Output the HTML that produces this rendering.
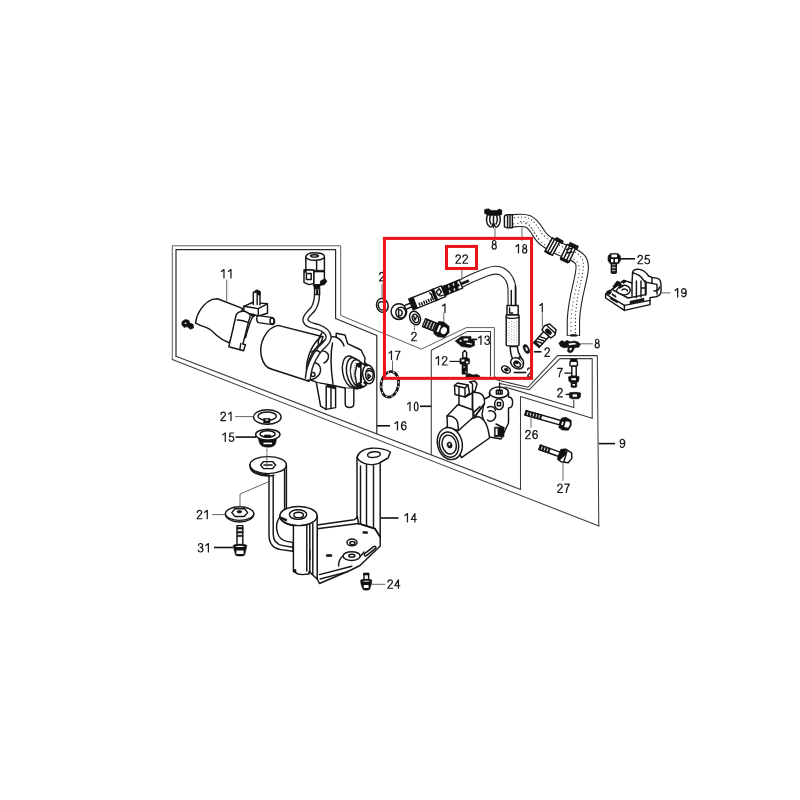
<!DOCTYPE html>
<html><head><meta charset="utf-8">
<style>
html,body{margin:0;padding:0;background:#fff;}
svg{display:block;}
text{font-family:"Liberation Sans",sans-serif;font-size:12.300px;fill:#111;}
.l{fill:none;stroke:#151515;stroke-width:1.450;stroke-linecap:round;stroke-linejoin:round;}
.g{fill:none;stroke:#555;stroke-width:0.9;stroke-linecap:round;stroke-linejoin:round;}
.t{fill:none;stroke:#111;stroke-width:1.6;stroke-linecap:butt;}
.f{fill:#fff;stroke:#151515;stroke-width:1.450;stroke-linejoin:round;stroke-linecap:round;}
.k{fill:#111;stroke:#111;stroke-width:0.6;stroke-linejoin:round;}
.w{fill:#fff;stroke:none;}
.r{fill:none;stroke:#ec141c;stroke-width:3.050;}
#frames path{stroke:#3a3a3a;stroke-width:1.050;}
.d path{fill:none;stroke:#1a1a1a;stroke-width:1.150;stroke-linecap:round;stroke-linejoin:round;}
</style></head><body>
<svg width="800" height="800" viewBox="0 0 800 800">
<rect width="800" height="800" fill="#fff"/>
<!-- 10_frames.svg -->
<g id="frames" class="l">
<path style="stroke:#555;stroke-width:.95" d="M172.3 359.6V245.8H340.7V315.4L421.3 349.2L466.3 327.6H494.4V376"/>
<path d="M172.3 359.6L599 526"/>
<path style="stroke:#2a2a2a;stroke-width:1.2" d="M176 356.2V249.6H335.6V318.5L376.8 335.5V433.7"/>
<path d="M176 356.2L520.5 489.5"/>
<path d="M431.3 454.6V350.2L467.5 331.4H490.5V376"/>
<path d="M494.4 376L497 380L528 387.3L557.5 355.6H597.3L598.8 526"/>
<path d="M500 383.5L529 389.8L560 358.6H592.2V418.2"/>
<path d="M505 387L573.8 407.5V400"/>
<path d="M520.5 489.5V396.5L592.2 418.2"/>
</g>
<!-- 20_cover.svg -->
<g id="cover11">
<path class="f" d="M195.6 323.1C196.5 313 204 302.5 212.5 299.4L217.5 298.8L243 308.6L238 316L229.5 343C224 341 219.5 338 216.5 335.3C213 331.5 210 329 207 327.8C203 326.3 199 325 195.6 323.1Z"/>
<path class="f" d="M235.8 316.5C236 312.5 241 310.6 245 311.4C249 312.2 251 315 250 317.5L248.5 322C246.5 330 244.5 338 242.8 344L245.4 344.8L243.6 350.8L228.8 346.8Z"/>
<path class="l" d="M237.4 320C241 319.8 245 321 248.6 322.6"/>
<path class="l" d="M240.8 343.5L239.8 349.6"/>
<path class="l" d="M252.8 316.5C250 322 247.5 330 245.5 338" stroke-dasharray="3.5 1.2" stroke-width="1.3"/>
<!-- sensor block -->
<path class="f" d="M243.8 306.3L252.5 302.5L267.5 303.8V313.3L258.5 316L249 313.5L243.8 310.6Z"/>
<path class="l" d="M243.8 306.3L258.3 308.6L267.5 303.8M258.3 308.6V316"/>
<path class="f" d="M253.3 304.5V292.5L256.5 291L260 292.5V305"/>
<path class="k" d="M254.6 291L257 289.8L260.2 291.2V295H258V293L254.6 292.5Z"/>
<path class="l" d="M257.2 293V304.5" stroke-width="1.4"/>
<!-- small cylinder -->
<path class="f" d="M258 315.6L271.5 317.4C275 318 275.8 323.4 272.4 324.6L258.4 322.6C256.2 321.4 256.2 316.8 258 315.6Z" stroke-width="1.3"/>
<ellipse class="l" cx="272" cy="321" rx="2" ry="3" stroke-width="1.2"/>
<path class="k" d="M250.6 315.2l3 -1.2l2 1.6l-2.6 1.6z"/>
<!-- screw -->
<path class="k" d="M182 321.600l3.400-2.200l3.600 1l.6 2.400l3.600 1.600l.4 3.600l-3.200 1.200l-3.400-2.600l-2.800 1l-2.400-2.600z"/>
<path class="w" d="M184.600 322.800l1-.4l.8.300v1l-.9.400l-.9-.400z"/>
</g>
<!-- 21_motor.svg -->
<g id="motor">
<path class="f" d="M278 325.4C266 328 258.5 343 261.3 356C263 364 267 368.5 272.8 369.5L309 381.3L323 336.8Z"/>
<path class="l" d="M321 336.6C311 345 303.5 362 307.6 380.6"/>
<!-- head housing -->
<path class="f" d="M330 336.6L336.2 337V333.2L345 335L347.6 343.6L361 350L365 358L362 387L357.5 388.8L345 388L332.5 385.2L317.5 382.6L307.5 378.8C305 370 309 356 316 348C320 343 326 339 330 336.6Z"/>
<path class="l" d="M332.5 343C330 355 331 370 333 384"/>
<path class="l" d="M336.2 337C340 339 343 342 344 346"/>
<ellipse class="f" cx="351" cy="371.600" rx="8.400" ry="15.800" transform="rotate(-10 351 371.600)" stroke-width="1.200"/>
<ellipse class="f" cx="354.600" cy="372.600" rx="8" ry="15" transform="rotate(-10 354.600 372.600)" stroke-width="1.200"/>
<ellipse class="f" cx="358" cy="373.600" rx="7.400" ry="14" transform="rotate(-10 358 373.600)" stroke-width="1.400"/>
<path d="M352 362C350.500 366 350 372 351 379M355.600 363C354 367 353.600 373 354.600 380" fill="none" stroke="#666" stroke-width="0.800" stroke-dasharray="1.200 1"/>
<path class="f" d="M357 364L361 362.600L366.400 366.400L368.600 375.600L366 385.400L360.400 388L356.600 384.400L355 374Z" stroke-width="1.700"/>
<path class="l" d="M361 362.600L360.400 388M357 364L361 368L361.400 382L356.600 384.400" stroke-width="1.200"/>
<ellipse class="f" cx="368.500" cy="374.400" rx="5.800" ry="9.400" transform="rotate(-8 368.500 374.400)" stroke-width="1.600"/>
<ellipse class="f" cx="369.400" cy="374.600" rx="3.800" ry="6.200" stroke-width="1.200"/>
<path class="l" d="M367.400 371.600C368.400 370 370.400 370 371.400 371.600M368 374L370.600 376.400L368 378.600Z" stroke-width="1"/>
<path class="k" d="M357 366l3-3.400l2 1l-3 4zM357.400 385l3.200 2.600l3.600-.400l-4-3.400zM363.400 383l3 2l1.600-1.600l-3-2.400zM364 363.400l3 3l1.400-1.400l-3-2.600z"/>
<!-- prongs -->
<path class="f" d="M316.4 383L320.6 406.2L326 409.4L335.6 407.6V387.5"/>
<path class="l" d="M326.2 386V409.2M331 387.5V408.5"/>
<path class="k" d="M327 384.4l8.6 2v2.6l-8.6-2z"/>
<path class="f" d="M345.2 388.2V403.5C345.2 408.8 353.8 408.8 353.8 403.5V388.8"/>
<!-- wire clip region -->
<path class="f" d="M306.5 368.5C309 364 313 362 316 363C320 364 321.5 369 320 373C318.5 377 313 380.5 308.5 379.5Z"/>
<path class="l" d="M311 374.5a2 2 0 1 0 4 0a2 2 0 1 0-4 0" stroke-width="1.2"/>
<path class="l" d="M318 352C322 350 326 351 328 354C329.5 357 328 361 324 363"/>
<!-- wire -->
<path d="M317 294C317 300 316.5 304 313 309C310 313 304.5 316 305.5 320.5C306.5 325 313 325.5 318 327C324 329 328.3 332 328.6 337C329 342 323.5 345 320 349C316 354 312 361 309.8 368C308.5 372.5 308 376 307.8 379" fill="none" stroke="#222" stroke-width="6.400" stroke-linecap="butt"/>
<path d="M317 293.5C317 300 316.5 304 313 309C310 313 304.5 316 305.5 320.5C306.5 325 313 325.5 318 327C324 329 328.3 332 328.6 337C329 342 323.5 345 320 349C316 354 312 361 309.8 368C308.5 372.5 308 376 307.8 379.5" fill="none" stroke="#fff" stroke-width="3.600" stroke-linecap="butt"/>
<path class="l" d="M322 333C319 337 317.500 341 318.500 345" stroke-width="1.200"/>
<path class="l" d="M311.500 352C314 350 318 350 320 352.500" stroke-width="1.200"/>
</g>
<!-- 22_connector.svg -->
<g id="connector">
<path class="f" d="M305.8 257C306 254.2 310 252.7 313 252.8L320 253.2C323 253.6 324.5 255.4 324.4 257.6V281.5L320 284.4L313.6 285V270.5L305.8 269.4Z" stroke-width="1.600"/>
<path class="l" d="M305.8 257.4C309 260.8 319 261.6 324.4 257.8"/>
<path class="l" d="M310.5 255.6C311 254.4 317.5 254.6 318.5 255.8C318.5 257.6 311 257.6 310.5 255.6Z" stroke-width="1.600"/>
<path class="l" d="M316.6 261V270.5"/>
<path class="f" d="M304 270H313.8V283.4L309 284.6L304 282.4Z" stroke-width="1.600"/>
<path class="l" d="M306.4 273.5H311.2V279.5H306.4Z"/>
<path class="k" d="M304.4 269.6h2v3h-2zM313.6 270.2H324v1.8H313.6z"/>
<path class="k" d="M320.4 281l4.6-2.4l2 2.6l-2.6 3.6l-4 .6z"/>
<path class="k" d="M313.6 285h6.6l-.6 4.4h-5.2z"/>
<path class="f" d="M314.6 288.6h5v6h-5z"/>
<path class="k" d="M316.4 289.4h1.6v5h-1.6z"/>
</g>
<!-- 30_bracket.svg -->
<g id="ring17">
<ellipse cx="389.800" cy="384.300" rx="8.700" ry="12.900" transform="rotate(10 389.800 384.300)" fill="none" stroke="#111" stroke-width="2.700"/>
<ellipse cx="389.800" cy="384.300" rx="8.700" ry="12.900" transform="rotate(10 389.800 384.300)" fill="none" stroke="#fff" stroke-width="1.100" stroke-dasharray="1.600 4.200"/>
</g>
<g id="washers">
<ellipse class="f" cx="267.300" cy="417" rx="13.800" ry="7.300" stroke-width="1.900"/>
<ellipse class="f" cx="267.200" cy="416.200" rx="9.200" ry="4.200" stroke-width="1.500"/>
<path class="k" d="M263.6 418.4h6.4v4.6h-6.4z"/>
<path class="w" d="M265.4 419.4h2.8v1.2h-2.8z"/>
<!-- 15 -->
<path class="k" d="M258.6 437.5C258.6 441 259.5 444.5 262 446C265 447.6 271 447.6 273.6 446C276 444.5 276.4 441 276.4 437.5Z"/>
<ellipse class="f" cx="267.8" cy="434.6" rx="12.2" ry="5.4" stroke-width="1.5"/>
<ellipse class="f" cx="267.6" cy="434" rx="7.6" ry="3.2" stroke-width="1.4"/>
<path class="w" d="M263.4 442.6h8.6v1.6h-8.6z"/>
<path class="k" d="M264.4 435h6.4v2.4h-6.4z"/>
<!-- lower 21 -->
<path class="f" d="M225.4 514C225.4 518 231 522 239.6 522C248.4 522 253.8 518 253.8 514" stroke-width="1.4"/>
<ellipse class="f" cx="239.6" cy="513.6" rx="14.2" ry="6.8" stroke-width="1.4"/>
<path class="l" d="M231.8 512.6L235 508.8H244.6L247.6 512.6L244.4 516.4H235Z" stroke-width="0.9"/>
<ellipse class="k" cx="239.4" cy="511.8" rx="2.4" ry="1.3"/>
</g>
<g id="bolt31">
<path class="f" d="M237 525.6H242.8V545H237Z" stroke-width="1.3"/>
<path class="k" d="M237 527.5h5.8v1.6H237zM237 531.4h5.8v1.6H237zM237 535.2h5.8v1.4H237z"/>
<path class="k" d="M233.2 545.6C233.2 543.8 246.8 543.8 246.8 545.6L246 549.5L244.6 555.2C242 556.4 238 556.4 235.6 555.2L234 549.5Z"/>
<path class="w" d="M236.4 550.6h7.2v3.4h-7.2zM235 546.4c3-.8 7-.8 10 0c-3 .8-7 .8-10 0z"/>
</g>
<g id="bracket14">
<!-- right post -->
<path class="f" d="M357 457.500C358 452.500 364 448.600 371 448.200C379 447.800 386 449.400 390.400 452L388 458L380.200 462.500V537L375 528.800L358.500 523.500L357 519Z" stroke-width="1.400"/>
<path class="l" d="M357 457.500C359 462 366 465 372 464.600C376 464.400 379 463.400 380.200 462.500"/>
<path class="l" d="M366.500 464.800V525.600M373.500 464.600V528" stroke-width="1.100"/>
<ellipse class="l" cx="374" cy="454.600" rx="6.400" ry="2.800" transform="rotate(-6 374 454.600)" stroke-width="1.400"/>
<path class="l" d="M360.500 466V523" stroke-width="0.800"/>
<!-- left pad + arm -->
<path class="f" d="M250 465C250 460 258 456.600 268 456.600C278 456.600 286.400 460 286.400 465V512L281 516C277 520 276 526 277 531C278 537 282 540.600 288 541.600L293 542.400V551.200L281 549.600C273 548.400 269 543 269 535V475C258 474.600 250 470.600 250 465Z"/>
<path class="l" d="M250 465C250 470 258 473.600 268 473.600C278 473.600 286.400 470 286.400 465"/>
<path class="l" d="M250.200 467.500C251 472 258 476 268 476C271 476 273 475.600 274 475.200"/>
<path class="l" d="M273.200 476V534C273.200 541 277 544.600 283 545.600L293 547.200M284.600 470V511"/>
<path class="l" d="M260.600 465L263.600 461.600H272.600L275.600 465L272.600 468.600H263.600Z" stroke-width="1.400"/>
<path class="l" d="M264 465h8" stroke-width="1.200"/>
<!-- base plate -->
<path class="f" d="M317.200 525L354 519.800C356 519.400 357 518 357.400 516.500L358.500 523.500L375 528.800L380.200 537V546L360 565.500L351 570L319.500 583.500L317.200 579Z" stroke-width="1.400"/>
<path class="l" d="M317.200 528.800L358.500 523.500L375 528.800L380.200 537"/>
<path class="l" d="M319.500 574.600L351.800 566.200M320.200 579L348 571.600" stroke-width="1.400"/>
<path class="l" d="M343 556C343 553.6 347 551.8 351.6 551.8C356.4 551.8 360.2 553.6 360.2 556C360.2 558.4 356.4 560.4 351.6 560.4C347 560.4 343 558.4 343 556Z"/>
<path class="l" d="M343 556C340 558 338.6 562 338.6 566M360.2 556.6L364 552"/>
<ellipse class="l" cx="351.8" cy="555.8" rx="3" ry="1.5" stroke-width="1.4"/>
<ellipse class="l" cx="352" cy="542.4" rx="5" ry="3.4"/>
<ellipse class="l" cx="352.4" cy="543" rx="2.6" ry="1.6"/>
<path class="l" d="M364.6 553.6L373.6 546.6C375.2 545.6 376.6 547 375.6 548.4L366.4 555.6C365 556.6 363.4 555 364.6 553.6Z"/>
<path class="k" d="M326.4 554.6h5.4v1.8h-5.4zM363 531.4l4.6.4l-.2 1.8l-4.6-.4z"/>
<!-- front cylinder post -->
<path class="f" d="M279.800 516C279.800 510.800 288.200 506.400 298.500 506.400C308.800 506.400 317.200 510.800 317.200 516V579L316 578L309 571.400V574L302.400 574.600L298 574L293.400 571.400V525.600C285.600 524.400 279.800 520.600 279.800 516Z" stroke-width="1.400"/>
<path class="l" d="M279.800 516C279.800 521.200 288.200 525.600 298.500 525.600C308.800 525.600 317.200 521.200 317.200 516"/>
<path class="l" d="M306.800 525V571M309.800 524.600V572M312.800 523.600V574" stroke-width="1.100"/>
<ellipse class="l" cx="298" cy="514.600" rx="8.600" ry="4.800" stroke-width="1.400"/>
<ellipse class="l" cx="298.600" cy="515" rx="4.800" ry="2.800"/>
<path class="k" d="M281.400 517l5.600 2.400l-.6 1.800l-5.600-2.400zM293.400 569.600h2.600v2.400h-2.600z"/>
<path class="l" d="M309.800 550V560" stroke-width="2.200"/>
</g>
<g id="bolt24">
<path class="f" d="M364 573.6H368.6V580H364Z"/>
<path class="k" d="M363.6 573h5.4v2h-5.4z"/>
<path class="k" d="M360.6 580.4C360.6 579 371.8 579 371.8 580.4L371.4 584L369.6 589.4C367.6 590.4 364.8 590.4 363 589.4L361 584Z"/>
<path class="w" d="M363.8 585h4.8v3h-4.8zM362.4 581.2c2.400-.6 5.4-.6 7.800 0c-2.400.6-5.400.6-7.800 0z"/>
</g>
<!-- 40_solenoid.svg -->
<g id="solenoid10">
<!-- right valve body -->
<path class="f" d="M489.500 392.500C489.500 389.200 494 387 498.700 387C503.600 387 508.500 389.200 508.500 392.500V397C511 397 512.600 399.400 512.600 402.500C512.600 405.800 511 408 508.500 408V423L501 439L489.500 437L486 428L482 415L484.500 399L489.500 396.500Z" stroke-width="1.200"/>
<path class="l" d="M489.500 392.500C489.500 395.800 494 398 498.700 398C503.600 398 508.500 395.800 508.500 392.500"/>
<path class="l" d="M496.400 390.200H502.200V394H496.400ZM498.400 390.200V394M500.400 390.200V394" stroke-width="0.800"/>
<path class="l" d="M499.600 383V390" stroke-dasharray="2 1" stroke-width="0.800"/>
<ellipse class="f" cx="499" cy="404.200" rx="4.400" ry="5.400" stroke-width="1.200"/>
<path class="l" d="M497.400 402.400h3.200v3.400h-3.200z" stroke-width="0.900"/>
<path class="l" d="M487.500 407.500C491 405.500 495 407 495.500 410.500M489 411C493 410 496.500 413 495.500 417C494.500 421 490 422.500 487.500 420M496 424L504 428"/>
<path class="k" d="M494.400 427.200h9.600v9.600h-9.600z"/>
<path class="w" d="M495.600 428.600h2v6.400h-2z"/>
<!-- cylinder -->
<path class="f" d="M446 427.500L478 416.500C483.500 418 488 424 489.500 438L461.500 457.600Z"/>
<!-- upper block -->
<path class="f" d="M472.500 392L479 393C483.500 394.500 485 399 484.500 403.500L474.500 417L472.500 410Z"/>
<path class="l" d="M473.500 412.600L480 406.600M475 416.400L484.400 404"/>
<path class="f" d="M447 416L458 404.500L473 410V417.500L458.500 430.500L447.500 427.600Z"/>
<path class="l" d="M447 416C452 415.400 456.500 418 457.500 422C458.200 425 458.200 428 458.500 430.500"/>
<path class="l" d="M459 395V404.600M472.500 392V410"/>
<!-- front face -->
<ellipse class="f" cx="449.800" cy="443.600" rx="12.300" ry="16.200" transform="rotate(-14 449.800 443.600)" stroke-width="1.300"/>
<ellipse class="l" cx="449.200" cy="444.600" rx="7" ry="9.600" transform="rotate(-14 449.200 444.600)"/>
<ellipse class="l" cx="449" cy="444.600" rx="9.600" ry="12.800" transform="rotate(-14 449 444.600)" stroke-width="0.700"/>
<ellipse class="k" cx="449.600" cy="445" rx="2.500" ry="3.100" transform="rotate(-14 449.600 445)"/>
<ellipse class="w" cx="449.400" cy="444.400" rx=".9" ry="1.200"/>
<!-- connector on top -->
<path class="f" d="M469.500 382L475 381L477 384L475 391L472.500 392V384Z"/>
<path class="f" d="M454.500 385.500L457.500 383L468 385L469.500 393L465 397L455 394.500Z" stroke-width="1.300"/>
<path class="l" d="M454.500 385.500L465 388V397M465 388L468 385"/>
<path class="l" d="M459 386.600V395.600" stroke-width="0.800"/>
<path class="l" d="M465 397L472.500 393"/>
</g>
<g id="p12_13">
<!-- 13 clip -->
<path class="k" d="M455.200 341L461.400 336.400H471V339.200L474.400 340.600L474.600 345.600L470 347.600L461.600 346.600Z"/>
<path class="w" d="M463.600 338.400h4.600v2h-4.600zM466.400 342.600l5.400 1v1.200l-5.400-1zM459 341l2.400-1.600v2.600z"/>
<!-- 12 -->
<path class="f" d="M462.800 352.600L464.700 350.400L466.600 352.600V358H462.800Z" stroke-width="1.400"/>
<path class="k" d="M459.800 359C459.800 357.600 469.600 357.600 469.600 359V363.400C469.600 364.800 459.800 364.800 459.800 363.400Z"/>
<path class="w" d="M461.400 359.400h3v2h-3zM466 361.600h2.400v1.600h-2.400z"/>
<path class="k" d="M462 364.600h5.400v9.600h-5.400z"/>
<path class="w" d="M463.400 366.400h1.600v1h-1.600zM465.200 371.400h1.400v1h-1.400z"/>
<path class="k" d="M466 375l3-1.400l4 1.400l3.600-.600l3 1.400l.400 1.400h-14z"/>
</g>
<!-- 50_hose22.svg -->
<g id="washer2left">
<ellipse class="f" cx="382.300" cy="305.400" rx="5.800" ry="7" transform="rotate(-15 382.300 305.400)" stroke-width="1.400"/>
<ellipse class="l" cx="381.600" cy="305.800" rx="3.200" ry="4.200" transform="rotate(-15 381.600 305.800)" stroke-width="1.100"/>
</g>
<g id="hose22">
<!-- tube -->
<path d="M458 285L472 278L486 272.400C491 270.400 497 269 502 271.600C508 275 512 282 512 290V306" fill="none" stroke="#222" stroke-width="9" />
<path d="M457 285.500L472 278L486 272.400C491 270.400 497 269 502 271.600C508 275 512 282 512 290V307" fill="none" stroke="#fff" stroke-width="6.800" />
<path class="l" d="M511.300 290.500V305.400" stroke-width="1.600" stroke-linecap="butt"/><path class="l" d="M515.400 285.500V305.400" stroke-width="3" stroke-linecap="butt"/>
<!-- left ferrule, local coords along axis -->
<circle class="f" cx="398.900" cy="311.600" r="7.800" stroke-width="1.500"/>
<ellipse class="f" cx="400.800" cy="312.600" rx="5" ry="5.400" stroke-width="1.100"/>
<path class="l" d="M398.600 309.600V316.200C403 316.600 404 309.600 398.600 309.600Z" stroke-width="1.200"/>
<g transform="translate(413.750 303.300) rotate(-22.100)">
<path class="f" d="M-9.600 -1.400H-2V2.600H-9.600Z"/>
<path class="k" d="M-3.400 -6.200H1.400V6.200H-3.400Z"/>
<path class="f" d="M1.400 -5.800H21.600V5.800H1.400Z" stroke-width="1.300"/>
<path class="l" d="M5 4V2M7.400 4.400V2.400M10 4V2M12.400 4.400V2.400M15 4V2M17.400 4.400V2.400M19.600 4V1M18.600 -3.600C20 -2 20 0 19 2" stroke-width="0.900"/>
<path class="k" d="M21.600 -6.200H23.400V6.200H21.600Z"/>
<path class="f" d="M23.400 -5.800H32V5.800H23.400Z" stroke-width="1.300"/>
<path class="l" d="M25 -2L29 -4L30 0L26 2ZM27 3L30.600 3.600" stroke-width="0.900"/>
<path class="k" d="M32 -5H34.400V5H32Z"/>
<path class="f" d="M34.400 -4.400H51V4.400H34.400Z"/>
<path class="k" d="M35.400 -4.400l3 0l-2 8.800h-3zM40.400 -4.400h3l-2 8.800h-3zM45.400 -4.400h3l-2 8.800h-3zM36 -1h13v2h-13z"/>
<path class="k" d="M51.400 -1.200h8v2h-8z"/>
</g>
<!-- washer 2 -->
<ellipse class="f" cx="415" cy="318" rx="5.200" ry="7" transform="rotate(-22 415 318)" stroke-width="1.300"/>
<ellipse class="l" cx="415.400" cy="318.400" rx="3" ry="4.400" transform="rotate(-22 415.400 318.400)"/>
<path class="l" d="M413.600 316l1.400 4l1.400-3" stroke-width="0.900"/>
<!-- bolt 1 left -->
<g transform="translate(424 322.600) rotate(22)">
<path class="f" d="M0 -4.200H13V4.200H0Z" stroke-width="1.200"/>
<path class="k" d="M1.600 -4.200h1.400v8.400h-1.400zM4.600 -4.200h1.400v8.400h-1.400zM7.600 -4.200h1.400v8.400h-1.400zM10.600 -4.200h1.400v8.400h-1.400z"/>
<path class="k" d="M13 -6.400L18 -8L24.600 -6L27 0L24.600 6L18 8L13 6.400Z"/>
<ellipse class="w" cx="21.400" cy="0" rx="3" ry="3.600"/>
<path class="w" d="M15 -3.600h2v7.200h-2z"/>
</g>
<!-- right lower ferrule -->
<path class="f" d="M507 305.400H518.200V315H507Z" stroke-width="1.200"/>
<path class="l" d="M509.600 308V313H512.600" stroke-width="0.900"/>
<path class="f" d="M506.200 315H519V345C519 346.600 506.200 346.600 506.200 345Z" stroke-width="1.200"/>
<path class="l" d="M506.200 317.400C510 318.600 515 318.600 519 317.400"/>
<path d="M509 322V343M511.600 321V344M514.200 322V343M516.600 321V344" fill="none" stroke="#777" stroke-width=".8" stroke-dasharray=".8 1.800"/>
<path class="f" d="M510.200 346.400H517.200C517.600 351 518.600 354 521 357.400L513.600 361C511 356 510.200 352 510.200 346.400Z"/>
<!-- lower banjo -->
<g transform="translate(517 363.400) rotate(32)">
<ellipse class="f" cx="0" cy="0" rx="6.800" ry="5" stroke-width="1.400"/>
<ellipse class="l" cx=".6" cy=".6" rx="3.600" ry="2.400" stroke-width="1.200"/>
<path class="k" d="M-3 -1l3-1.400l1 2.400l-3 1.400z"/>
</g>
<path class="f" d="M519 357C522 358 524 361 523.400 364.600" />
<!-- washers near -->
<ellipse class="k" cx="526.400" cy="349" rx="2.600" ry="4.800" transform="rotate(-25 526.400 349)"/>
<ellipse class="w" cx="526.600" cy="349" rx=".9" ry="2.200" transform="rotate(-25 526.600 349)"/>
<ellipse class="f" cx="506" cy="369.600" rx="4.600" ry="3.200" transform="rotate(28 506 369.600)" stroke-width="1.400"/>
<path class="k" d="M504 369l3-1l1.600 2.400l-3 1z"/>
</g>
<!-- 60_hose18.svg -->
<g id="hose18">
<path id="h18" d="M511 221C517 220.400 523 219.400 528 221.400C534 224 537 231 541 236.600C545 242 552 245 559 248.600C566 252 576 254 580.400 260C584 265 581.600 274 579.600 283C577 294 574 306 573.400 320V336" fill="none" stroke="#222" stroke-width="13.400" stroke-linejoin="round"/>
<path d="M511 221C517 220.400 523 219.400 528 221.400C534 224 537 231 541 236.600C545 242 552 245 559 248.600C566 252 576 254 580.400 260C584 265 581.600 274 579.600 283C577 294 574 306 573.400 320V335.200" fill="none" stroke="#fff" stroke-width="11.200" stroke-linejoin="round"/>
<!-- stipple texture -->
<path d="M514 218C520 217 525 216.600 529 218.400C535 221 538 228 542 233.600C546 239 553 242 560 245.600C567 249 577 251 581.400 257.600C585 263 583 272 581 281C578.400 292 576 304 575.400 318V334" fill="none" stroke="#333" stroke-width="1.100" stroke-dasharray="1.100 2.400"/>
<path d="M513 224C519 223 524 222.400 527.400 224.400C532 227 535 234 539 239.600C543 245 550 248 557 251.600C564 255 573 257 577.400 262.600C580.600 267 579 275 577 284C574.400 295 571.600 307 571 321V334" fill="none" stroke="#444" stroke-width="1.100" stroke-dasharray="1.100 3"/>
<path d="M520 221.600C524 221 527 222 530 226C533 230 536 236 540 240" fill="none" stroke="#444" stroke-width="1.100" stroke-dasharray="1.100 2.200"/>
<!-- end cap -->
<path class="f" d="M504.400 217.400C504.400 215.600 506 214.800 508 214.800H512.400V227.800H508C506 227.800 504.400 227 504.400 225.200Z" stroke-width="1.600"/>
<path class="l" d="M507.600 216V226.600M510 215.600V227" stroke-width="0.900"/>
<!-- clamps -->
<g transform="translate(552.400 246.600) rotate(29)">
<path class="f" d="M-4.200 -7.600H4.200V7.600H-4.200Z" stroke-width="1.700"/>
<path class="l" d="M-1.500 -7.600V7.600M1.500 -7.600V7.600" stroke-width="1.400"/>
<path class="k" d="M-1 -10.200h8v3h-8zM-4.200 6.600h6v1.800h-6z"/>
</g>
<g transform="translate(568 253.400) rotate(25)">
<path class="f" d="M-4.600 -7.800H4.600V7.800H-4.600Z" stroke-width="1.700"/>
<path class="l" d="M-1.600 -7.800V7.800M1.600 -7.800V7.800" stroke-width="1.400"/>
<path class="k" d="M-3 -11h9.600v3.600h-9.600zM-4.600 6.400h8.600v2.600h-8.600z"/>
<path class="l" d="M-3 -3L1 -6M-1 0L3 -3" stroke-width="1.200"/>
</g>
<path class="k" d="M570.600 334.600h6v1.600h-6z"/>
</g>
<g id="clip8a">
<path class="k" d="M484.600 209.400l4-.6l2.400 1.600h6l2.400-1.400l2.400 1v4.400l-3 1h-10.400l-3.800-2z"/>
<path class="f" d="M487.600 214.600C485.600 219 486.400 224.600 489.600 226.600C491.400 227.600 492.600 226 492.800 224M499.400 214.600C501 219 500.400 224.600 497.400 226.600C495.600 227.600 494.400 226 494.200 224" stroke-width="1.300"/>
<path class="l" d="M490.600 215C489.400 218.400 489.600 222 491 224M496.400 215C497.600 218.400 497.400 222 496 224"/>
<path class="l" d="M493.500 216V227.400" stroke-width="1.200"/>
</g>
<g id="clip8b">
<path class="k" d="M558.800 343l3-2.400l3 1.400l2-1.600l3.600 1.400l4-.8l4 1.200l2 2.400l-1.600 2.600l-4 .4l-2.400 4.400l-3 .8l-2-1.600l1-4l-4.600.6l-3.400-1.600z"/>
<path class="w" d="M568.600 343.400l6-.6l2 1.400l-7.600 1zM569.600 348l2.400-.2l-.8 2.400l-1.600.2z"/>
</g>
<!-- 61_bracket19.svg -->
<g id="bolt25">
<path class="k" d="M608 257.400C608 255.600 609 254.400 611 253.400H617.400C619.400 254.400 620.600 255.600 620.600 257.400V260.400L618.400 263.800H610.200L608 260.400Z"/>
<path class="w" d="M611.400 254.600h5.600v2.600h-5.600zM611 259h2.400v3.200H611zM615 259h3v3.200h-3z"/>
<path class="f" d="M611.400 263.800H616.200V272.400C616.200 273.400 611.400 273.400 611.400 272.400Z" stroke-width="1.200"/>
<path class="k" d="M611.400 265.400h4.800v1.400h-4.800zM611.400 268.400h4.800v1.400h-4.800zM611.400 271.200h4.800v1.600h-4.800z"/>
</g>
<g id="bracket19">
<path class="f" d="M605.600 294L612 289.400L623.800 280.400L632 283L632.600 272.400C633 270 636 268.800 639.600 269.400C643.600 270 646.600 273 648.600 276L652 277.400L657.600 278.400C660.200 279.400 661 282 661 285V291C661 294.400 659 296 656 296.800L650 297.600V304.600L624.400 310.400L605.600 298Z" stroke-width="1.600"/>
<path class="l" d="M605.600 294L624.400 305.400L650 300.400" stroke-width="1.300"/>
<path class="l" d="M624.400 305.400V310.400"/>
<path class="l" d="M612 289.400L628 298L646 294.600V283" stroke-width="1.300"/>
<path class="l" d="M632 283V296M636.400 281V297.600M641 281V288H645.400V281M641 288V297M645.400 288V295" stroke-width="1.700"/>
<path class="l" d="M632.600 272.400C635 274 639 274.400 641 277L645 282L652 283.400V277.400" stroke-width="1.400"/>
<path class="l" d="M652 283.400L657 284.400V294" stroke-width="1.300"/>
<path class="f" d="M616 291C618 286 624 284 628 286.400C631 288.400 631 292 628.400 293.600C625 295.600 620 295 616 291Z" stroke-width="1.500"/>
<path class="l" d="M622 290C624 288.400 627 289 627.600 291M619 288L623 286" stroke-width="1.400"/>
<path class="k" d="M612.600 286.400l5-3.600l4 1.400l-1 2l-3-.400l-3.400 2.400zM606.600 291.600l3.400-1.600l1.600 2.200l-2.200 2.600l-2.600-1zM622 281.400l3-1.400l1.400 1.600l-3 1.800zM614 285l3-4l3 1l-3 3.600z"/>
<path class="k" d="M630 301.200l14-3v2.600l-14 3zM610.400 297.200l7 4v1.800l-7-4zM612 293.600l4 2.400v1.400l-4-2.400z"/>
<path class="l" d="M654 291C657 291 659 289.600 659.600 287" stroke-width="1.400"/>
</g>
<g id="bolt1r">
<g transform="translate(546.400 334) rotate(-48)">
<path class="f" d="M-14 -3.600H0V3.600H-14Z" stroke-width="1.300"/>
<path class="l" d="M-12 -2.400L-10 2.400M-9 -2.400L-7 2.400M-6 -2.400L-4 2.400" stroke-width="1.300"/>
<path class="k" d="M-15.400 -4h2.400v8h-2.400z"/>
<path class="f" d="M0 -6L5 -7L9.600 -4.400V4.400L5 7L0 6Z" stroke-width="1.500"/>
<ellipse class="k" cx="3" cy="0" rx="2" ry="3.600"/>
<path class="l" d="M6.600 -5.400V5.400" />
</g>
</g>
<g id="p7_2">
<path class="k" d="M570.400 359h6.600v2.600h-6.600z"/>
<path class="f" d="M570 362C570 361 577.400 361 577.400 362V365.400C577.400 366.400 570 366.400 570 365.400Z" stroke-width="1.300"/>
<path class="f" d="M571.800 366.200H576.200V376.400H571.800Z" stroke-width="1.300"/>
<path class="k" d="M568.400 377C568.400 375.600 579.200 375.600 579.200 377L578.600 381.400L576.800 382.600H571L569 381.400Z"/>
<path class="w" d="M571.400 378.200h4.600v2h-4.600z"/>
<path class="k" d="M571 382.600h5.800v4.200C576.800 387.800 571 387.800 571 386.800z"/>
<path class="w" d="M572.600 384h2.400v1.600h-2.400z"/>
<path class="k" d="M569 393.400C569 392 580.800 392 580.800 393.400L580.200 397.600L578.200 398.800H571.600L569.600 397.600Z"/>
<path class="w" d="M572.600 394.400h4.400v2.400h-4.400z"/>
</g>
<g id="bolts26_27">
<g transform="translate(525.600 412.500) rotate(15.900)">
<path class="f" d="M0 -2H36V2.600H0Z" stroke-width="1.200"/>
<path class="k" d="M0 -2.400h1.400v5.200H0zM3 -2.200h1.400v5H3zM6 -2.200h1.400v5H6zM9 -2.200h1.400v5H9zM12 -2.200h1.400v5H12zM15 -2.200h1.400v5h-1.400z"/>
<path class="k" d="M36 -4.400L40 -6.400L46 -5L47.400 0L46 5.400L40 6.800L36 5.400Z"/>
<path class="w" d="M41 -2.600l4-.4l1 3l-1 3l-4 .4zM37.600 -1.400h1.600v3.400h-1.600z"/>
</g>
<g transform="translate(539.800 447) rotate(19.500)">
<path class="f" d="M0 -2H21V2.600H0Z" stroke-width="1.200"/>
<path class="k" d="M0 -2.400h1.400v5.200H0zM3 -2.200h1.400v5H3zM6 -2.200h1.400v5H6zM9 -2.200h1.400v5H9z"/>
<path class="f" d="M21 -4.600L25 -6.600L32 -5L34 0L32 5.400L25 6.800L21 5.400Z" stroke-width="1.500"/>
<path class="k" d="M21 -4.600L25 -6.600L27 -2L23 5.800L21 5.400Z"/>
<path class="l" d="M27 -6L27.600 6"/>
</g>
</g>
<!-- 80_labels.svg -->
<g id="ticks" class="t">
<path d="M377 425.8H390"/><path d="M420 406.3H431"/><path d="M598.8 443.6H615"/>
<path d="M381 518H398.5"/>
<path d="M235.6 437.1H256"/><path d="M214 547.5H233"/>
<path d="M620.6 258.8H635"/>
<path d="M513.8 372.5H526.3"/><path d="M534 351.8H541.5"/>
<path d="M449.500 361.400H459.500" stroke-width="1.100"/><path d="M471.500 339.400H477.200"/>
<path d="M564.500 373.100H571.500" stroke-width="1.300"/><path d="M565.500 394.400H569.500" stroke-width="1.300"/>
</g>
<g id="leaders" class="g">
<path d="M226.7 280V300.8"/>
<path d="M461.9 269.5V280"/>
<path d="M392.5 361V371"/>
<path d="M235.6 416.6H253"/><path d="M212.5 514.6H225"/>
<path d="M495 228.5V237"/><path d="M522 226.5V240.5"/>
<path d="M443.8 313V321"/><path d="M542.3 313.5V327"/>
<path d="M414.400 325V330" stroke-dasharray="2 1"/><path d="M382.100 284V298.400"/><path d="M372.400 584.300H384.800"/>
<path d="M531 416.3V427.5"/><path d="M563 462V480.5"/>
<path d="M580 343.8H592.5"/><path d="M660.6 292.9H670"/>
<path d="M266.9 448.8V467" stroke-dasharray="3 1.5"/>
<path d="M268 482L240 494V508.5"/>
</g>
<g id="labels" class="d">
<path transform="translate(220.45 278.00) scale(1.1 1)" d="M.9 -6.5L3.2 -8.5V0"/><path transform="translate(227.45 278.00) scale(1.1 1)" d="M.9 -6.5L3.2 -8.5V0"/>
<path transform="translate(455.45 263.30) scale(1.1 1)" d="M.5 -6.3C.6 -9.2 4.6 -9.2 4.5 -6.2C4.4 -4.2 1 -2.6 .4 0H4.7"/><path transform="translate(462.45 263.30) scale(1.1 1)" d="M.5 -6.3C.6 -9.2 4.6 -9.2 4.5 -6.2C4.4 -4.2 1 -2.6 .4 0H4.7"/>
<path transform="translate(387.95 359.60) scale(1.1 1)" d="M.9 -6.5L3.2 -8.5V0"/><path transform="translate(394.95 359.60) scale(1.1 1)" d="M.4 -8.4H4.6C3 -6 2 -3 1.8 0"/>
<path transform="translate(393.95 430.00) scale(1.1 1)" d="M.9 -6.5L3.2 -8.5V0"/><path transform="translate(400.95 430.00) scale(1.1 1)" d="M4.4 -6.6C4 -9.2 .5 -9.2 .5 -4C.5 .9 4.6 .9 4.6 -2.6C4.6 -5.7 1 -5.7 .6 -3"/>
<path transform="translate(406.45 410.60) scale(1.1 1)" d="M.9 -6.5L3.2 -8.5V0"/><path transform="translate(413.45 410.60) scale(1.1 1)" d="M2.5 -8.5C.3 -8.5 .3 .1 2.5 .1C4.7 .1 4.7 -8.5 2.5 -8.5Z"/>
<path transform="translate(434.95 365.00) scale(1.1 1)" d="M.9 -6.5L3.2 -8.5V0"/><path transform="translate(441.95 365.00) scale(1.1 1)" d="M.5 -6.3C.6 -9.2 4.6 -9.2 4.5 -6.2C4.4 -4.2 1 -2.6 .4 0H4.7"/>
<path transform="translate(477.45 344.50) scale(1.1 1)" d="M.9 -6.5L3.2 -8.5V0"/><path transform="translate(484.45 344.50) scale(1.1 1)" d="M.5 -6.6C.8 -9.2 4.4 -9 4.3 -6.4C4.2 -4.8 3 -4.5 2 -4.5C3.4 -4.5 4.7 -3.8 4.6 -2.2C4.5 .7 .6 .7 .3 -2"/>
<path transform="translate(403.95 522.00) scale(1.1 1)" d="M.9 -6.5L3.2 -8.5V0"/><path transform="translate(410.95 522.00) scale(1.1 1)" d="M3.6 0V-8.4L.3 -2.5H4.9"/>
<path transform="translate(619.65 447.60) scale(1.1 1)" d="M4.4 -5.6C4 -3 .5 -3 .5 -5.8C.5 -9.4 4.6 -9.4 4.6 -4.6C4.6 .7 1 .9 .6 -1.8"/>
<path transform="translate(220.45 420.60) scale(1.1 1)" d="M.5 -6.3C.6 -9.2 4.6 -9.2 4.5 -6.2C4.4 -4.2 1 -2.6 .4 0H4.7"/><path transform="translate(227.45 420.60) scale(1.1 1)" d="M.9 -6.5L3.2 -8.5V0"/>
<path transform="translate(221.75 441.40) scale(1.1 1)" d="M.9 -6.5L3.2 -8.5V0"/><path transform="translate(228.75 441.40) scale(1.1 1)" d="M4.4 -8.4H1.2L.7 -4.4C1.6 -5.6 4.6 -5.6 4.6 -2.6C4.6 .7 .8 .7 .4 -1.8"/>
<path transform="translate(196.75 518.80) scale(1.1 1)" d="M.5 -6.3C.6 -9.2 4.6 -9.2 4.5 -6.2C4.4 -4.2 1 -2.6 .4 0H4.7"/><path transform="translate(203.75 518.80) scale(1.1 1)" d="M.9 -6.5L3.2 -8.5V0"/>
<path transform="translate(197.85 552.00) scale(1.1 1)" d="M.5 -6.6C.8 -9.2 4.4 -9 4.3 -6.4C4.2 -4.8 3 -4.5 2 -4.5C3.4 -4.5 4.7 -3.8 4.6 -2.2C4.5 .7 .6 .7 .3 -2"/><path transform="translate(204.85 552.00) scale(1.1 1)" d="M.9 -6.5L3.2 -8.5V0"/>
<path transform="translate(387.45 588.30) scale(1.1 1)" d="M.5 -6.3C.6 -9.2 4.6 -9.2 4.5 -6.2C4.4 -4.2 1 -2.6 .4 0H4.7"/><path transform="translate(394.45 588.30) scale(1.1 1)" d="M3.6 0V-8.4L.3 -2.5H4.9"/>
<path transform="translate(441.45 312.50) scale(1.1 1)" d="M.9 -6.5L3.2 -8.5V0"/>
<path transform="translate(411.25 340.70) scale(1.1 1)" d="M.5 -6.3C.6 -9.2 4.6 -9.2 4.5 -6.2C4.4 -4.2 1 -2.6 .4 0H4.7"/>
<path transform="translate(538.75 312.00) scale(1.1 1)" d="M.9 -6.5L3.2 -8.5V0"/>
<path transform="translate(544.45 356.40) scale(1.1 1)" d="M.5 -6.3C.6 -9.2 4.6 -9.2 4.5 -6.2C4.4 -4.2 1 -2.6 .4 0H4.7"/>
<path transform="translate(527.05 376.30) scale(1.1 1)" d="M.5 -6.3C.6 -9.2 4.6 -9.2 4.5 -6.2C4.4 -4.2 1 -2.6 .4 0H4.7"/>
<path transform="translate(379.15 280.90) scale(1.1 1)" d="M.5 -6.3C.6 -9.2 4.6 -9.2 4.5 -6.2C4.4 -4.2 1 -2.6 .4 0H4.7"/>
<path transform="translate(491.45 249.00) scale(1.1 1)" d="M2.5 -4.6C.4 -4.6 .4 -8.5 2.5 -8.5C4.6 -8.5 4.6 -4.6 2.5 -4.6C0 -4.6 0 .1 2.5 .1C5 .1 5 -4.6 2.5 -4.6Z"/>
<path transform="translate(514.95 253.00) scale(1.1 1)" d="M.9 -6.5L3.2 -8.5V0"/><path transform="translate(521.95 253.00) scale(1.1 1)" d="M2.5 -4.6C.4 -4.6 .4 -8.5 2.5 -8.5C4.6 -8.5 4.6 -4.6 2.5 -4.6C0 -4.6 0 .1 2.5 .1C5 .1 5 -4.6 2.5 -4.6Z"/>
<path transform="translate(637.45 263.80) scale(1.1 1)" d="M.5 -6.3C.6 -9.2 4.6 -9.2 4.5 -6.2C4.4 -4.2 1 -2.6 .4 0H4.7"/><path transform="translate(644.45 263.80) scale(1.1 1)" d="M4.4 -8.4H1.2L.7 -4.4C1.6 -5.6 4.6 -5.6 4.6 -2.6C4.6 .7 .8 .7 .4 -1.8"/>
<path transform="translate(674.15 297.00) scale(1.1 1)" d="M.9 -6.5L3.2 -8.5V0"/><path transform="translate(681.15 297.00) scale(1.1 1)" d="M4.4 -5.6C4 -3 .5 -3 .5 -5.8C.5 -9.4 4.6 -9.4 4.6 -4.6C4.6 .7 1 .9 .6 -1.8"/>
<path transform="translate(594.45 347.80) scale(1.1 1)" d="M2.5 -4.6C.4 -4.6 .4 -8.5 2.5 -8.5C4.6 -8.5 4.6 -4.6 2.5 -4.6C0 -4.6 0 .1 2.5 .1C5 .1 5 -4.6 2.5 -4.6Z"/>
<path transform="translate(557.25 376.80) scale(1.1 1)" d="M.4 -8.4H4.6C3 -6 2 -3 1.8 0"/>
<path transform="translate(557.25 396.90) scale(1.1 1)" d="M.5 -6.3C.6 -9.2 4.6 -9.2 4.5 -6.2C4.4 -4.2 1 -2.6 .4 0H4.7"/>
<path transform="translate(525.25 438.80) scale(1.1 1)" d="M.5 -6.3C.6 -9.2 4.6 -9.2 4.5 -6.2C4.4 -4.2 1 -2.6 .4 0H4.7"/><path transform="translate(532.25 438.80) scale(1.1 1)" d="M4.4 -6.6C4 -9.2 .5 -9.2 .5 -4C.5 .9 4.6 .9 4.6 -2.6C4.6 -5.7 1 -5.7 .6 -3"/>
<path transform="translate(557.25 492.50) scale(1.1 1)" d="M.5 -6.3C.6 -9.2 4.6 -9.2 4.5 -6.2C4.4 -4.2 1 -2.6 .4 0H4.7"/><path transform="translate(564.25 492.50) scale(1.1 1)" d="M.4 -8.4H4.6C3 -6 2 -3 1.8 0"/>
</g>
<g id="red">
<rect class="r" x="384.450" y="238.400" width="147.100" height="139.950"/>
<rect class="r" x="446.500" y="246.450" width="30" height="22.050"/>
</g>
</svg>
</body></html>
